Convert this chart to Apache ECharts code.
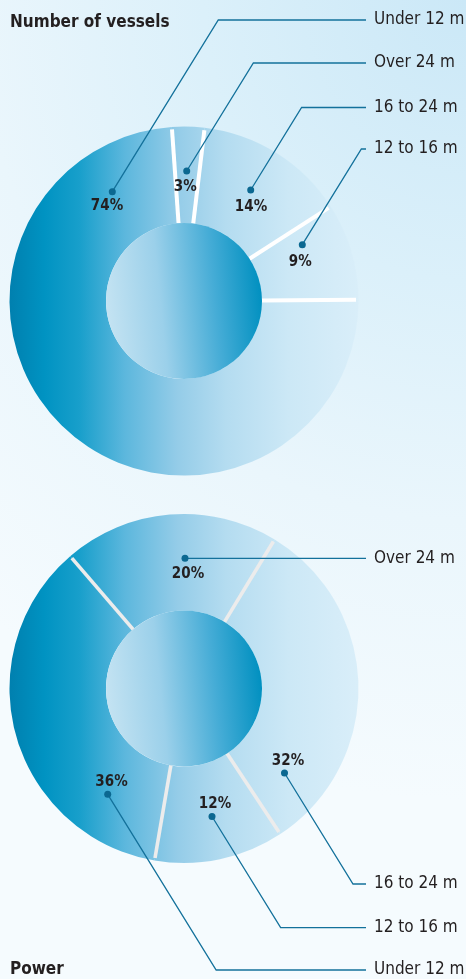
<!DOCTYPE html>
<html>
<head>
<meta charset="utf-8">
<script src="https://cdn.jsdelivr.net/npm/echarts@6/dist/echarts.min.js"></script>
<style>
  html, body { margin: 0; padding: 0; }
  #chart {
    width: 466px; height: 979px;
    background: radial-gradient(ellipse 750px 800px at 100% 0%, #cbe8f7 0%, #dbf0fa 35%, #eaf6fc 65%, #f5fbfe 100%);
  }
</style>
</head>
<body>
<div id="chart"></div>
<script>
// Fleet by length class: share of vessels and share of engine power (%)
const categories = ['Over 24 m', '16 to 24 m', '12 to 16 m', 'Under 12 m'];
const vesselShare = [3, 14, 9, 74];
const powerShare = [20, 32, 12, 36];

// ---- layout ----
const FONT = '"DejaVu Sans Condensed", "Liberation Sans Narrow", sans-serif';
const R_OUT = 174.5;
const R_IN = 78;
const TEXT_X = 374;      // left edge of category names
const LINE_END = 366;    // where leader lines stop
const SLOPE = 1.62;      // rise/run of the slanted leader segment
const INK = '#231f20';
const LEADER = '#13719b';

// Label anchors, per category: dot and percent text as offsets from the donut centre,
// and the row (y) of the category name on the right.
const vesselAnchors = [
  { dot: [2.7, -130], pct: [1.3, -113.5], row: 63 },
  { dot: [66.7, -111], pct: [67, -93.5], row: 107.5 },
  { dot: [118.3, -56.3], pct: [116.3, -38.5], row: 149 },
  { dot: [-71.7, -109.3], pct: [-77, -94.5], row: 20 }
];
const powerAnchors = [
  { dot: [1, -130.2], pct: [4, -114], row: 558.3 },
  { dot: [100.5, 84.5], pct: [104, 73], row: 884 },
  { dot: [28, 128], pct: [31, 115.5], row: 927.7 },
  { dot: [-76.3, 105.8], pct: [-72.5, 93.5], row: 970 }
];

const donuts = [
  { title: 'Number of vessels', titleY: 23, values: vesselShare, anchors: vesselAnchors,
    center: [184, 301], startAngle: 94, sepColor: '#ffffff', sepWidth: 4 },
  { title: 'Power', titleY: 969.5, values: powerShare, anchors: powerAnchors,
    center: [184, 688.5], startAngle: 130.7, sepColor: '#ececec', sepWidth: 3.6 }
];

function ringGradient(c) {
  return new echarts.graphic.LinearGradient(c[0] - R_OUT, 0, c[0] + R_OUT, 0, [
    { offset: 0, color: '#0080af' },
    { offset: 0.1, color: '#0093c2' },
    { offset: 0.2, color: '#189fcb' },
    { offset: 0.33, color: '#5cb7dd' },
    { offset: 0.48, color: '#94cce8' },
    { offset: 0.62, color: '#b4dcf0' },
    { offset: 0.8, color: '#cce8f6' },
    { offset: 1, color: '#d9eef9' }
  ], true);
}

function coreGradient() {
  return new echarts.graphic.LinearGradient(0, 0.55, 1, 0.45, [
    { offset: 0, color: '#c4e3f2' },
    { offset: 0.35, color: '#9bd0ea' },
    { offset: 0.7, color: '#45acd6' },
    { offset: 1, color: '#0090c0' }
  ]);
}

const series = [];
const polar = [];
const angleAxis = [];
const radiusAxis = [];
const graphic = [];
const hiddenAxis = { show: false, axisLine: { show: false }, axisTick: { show: false },
                     axisLabel: { show: false }, splitLine: { show: false } };
const clear = { color: 'rgba(0,0,0,0)', borderWidth: 0 };

donuts.forEach((d, i) => {
  const [cx, cy] = d.center;
  const items = categories.map((name, k) => ({ name, value: d.values[k] }));
  const base = {
    type: 'pie', center: d.center, radius: [R_IN, R_OUT], startAngle: d.startAngle,
    clockwise: true, silent: true, avoidLabelOverlap: false, emphasis: { disabled: true },
    animation: false, data: items
  };

  // ring
  series.push(Object.assign({}, base, {
    z: 1,
    itemStyle: { color: ringGradient(d.center), borderWidth: 0 },
    label: { show: false },
    labelLine: { show: false }
  }));

  // percentage labels
  series.push(Object.assign({}, base, {
    z: 3,
    itemStyle: clear,
    label: { show: true, position: 'inside', formatter: '{c}%', fontFamily: FONT,
             fontWeight: 'bold', fontSize: 15, color: INK },
    labelLine: { show: false },
    labelLayout: p => {
      const a = d.anchors[p.dataIndex];
      return { x: cx + a.pct[0], y: cy + a.pct[1], align: 'center', verticalAlign: 'middle' };
    }
  }));

  // category names with leader lines
  series.push(Object.assign({}, base, {
    z: 3,
    itemStyle: clear,
    label: { show: true, position: 'outside', formatter: '{b}', width: 110, overflow: 'none',
             fontFamily: FONT, fontSize: 17, color: INK },
    labelLine: { show: true, smooth: false, lineStyle: { color: LEADER, width: 1.3 } },
    labelLayout: p => {
      const a = d.anchors[p.dataIndex];
      const dot = [cx + a.dot[0], cy + a.dot[1]];
      const bend = [dot[0] + Math.abs(a.row - dot[1]) / SLOPE, a.row];
      return { x: TEXT_X, y: a.row, align: 'left', verticalAlign: 'middle',
               labelLinePoints: [dot, bend, [LINE_END, a.row]] };
    }
  }));

  // anchor dots
  series.push(Object.assign({}, base, {
    z: 4,
    itemStyle: clear,
    label: { show: true, position: 'inside', formatter: '{dot| }',
             rich: { dot: { width: 7, height: 7, borderRadius: 3.5, backgroundColor: '#0b6891' } } },
    labelLine: { show: false },
    labelLayout: p => {
      const a = d.anchors[p.dataIndex];
      return { x: cx + a.dot[0], y: cy + a.dot[1], align: 'center', verticalAlign: 'middle' };
    }
  }));

  // polar frame sharing the donut's geometry, used for the slice separators
  polar.push({ center: d.center, radius: R_OUT });
  angleAxis.push(Object.assign({ polarIndex: i, type: 'value', min: 0, max: 100,
                                 startAngle: d.startAngle, clockwise: true }, hiddenAxis));
  radiusAxis.push(Object.assign({ polarIndex: i, type: 'value', min: 0, max: R_OUT }, hiddenAxis));

  const bounds = [];
  d.values.reduce((acc, v) => { bounds.push([R_OUT, acc]); return acc + v; }, 0);

  series.push({
    type: 'custom', coordinateSystem: 'polar', polarIndex: i, z: 2, silent: true,
    animation: false, data: bounds,
    renderItem: (params, api) => {
      const ang = api.value(1);
      const p1 = api.coord([R_IN, ang]);
      const p2 = api.coord([R_OUT - 2.5, ang]);
      return { type: 'line', shape: { x1: p1[0], y1: p1[1], x2: p2[0], y2: p2[1] },
               style: { stroke: d.sepColor, lineWidth: d.sepWidth } };
    }
  });

  // inner disc
  graphic.push({ type: 'circle', z: 5, silent: true, shape: { cx, cy, r: R_IN },
                 style: { fill: coreGradient() } });

  // chart title
  graphic.push({ type: 'text', z: 5, silent: true,
                 style: { text: d.title, x: 10, y: d.titleY, fill: INK, align: 'left',
                          verticalAlign: 'middle', font: 'bold 17px ' + FONT } });
});

const chart = echarts.init(document.getElementById('chart'), null, { renderer: 'canvas' });
chart.setOption({
  backgroundColor: 'transparent',
  animation: false,
  polar, angleAxis, radiusAxis,
  series,
  graphic
});
</script>
</body>
</html>
